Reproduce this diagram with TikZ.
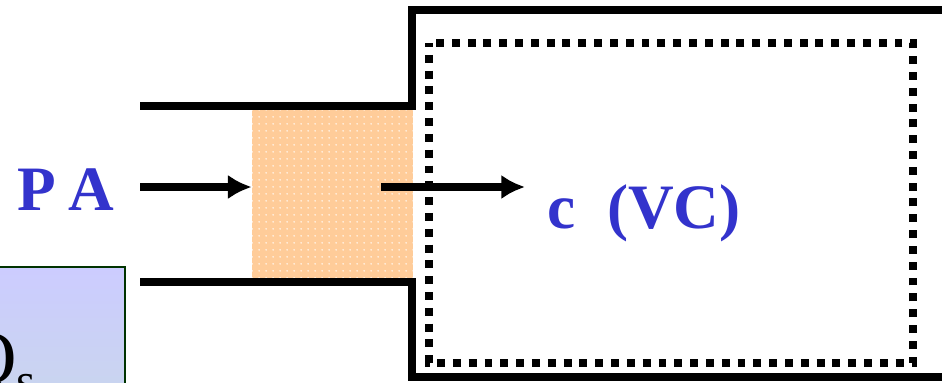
\documentclass[tikz,border=0pt]{standalone}
\usepackage{fontspec}
\setmainfont{Liberation Serif}
\usetikzlibrary{arrows.meta,patterns.meta,positioning}

\definecolor{labelblue}{RGB}{51,51,204}
\definecolor{slugfill}{RGB}{255,204,153}
\definecolor{boxgreen}{RGB}{0,51,0}
\definecolor{boxtop}{RGB}{204,204,255}
\definecolor{boxbottom}{RGB}{200,216,232}

\tikzset{
  wall/.style={line width=5pt, line join=miter},
  flow/.style={line width=5pt, -{Latex[length=13.5pt,width=14pt]}},
  volume/.style={line width=4.5pt, dash pattern=on 4.5pt off 4.5pt, dash phase=2.25pt},
  bigtext/.style={font=\fontsize{36}{40}\selectfont\bfseries, text=labelblue, inner sep=0pt},
  slugbox/.style={draw=none, minimum width=3.22cm, minimum height=3.36cm,
    preaction={fill=slugfill}, pattern={Dots[distance=4pt, radius=0.55pt]},
    pattern color=white!80!slugfill},
}

\begin{document}
\begin{tikzpicture}[x=0.02cm, y=-0.02cm]
  \path[use as bounding box, clip] (0,0) rectangle (945,382);

  % Slug of fluid in the pipe
  \node[slugbox] (slug) at (332.5,194) {};

  % Pipe and vessel walls
  \draw[wall] (140,106) -- (412,106) -- (412,10) -- (942,10);
  \draw[wall] (140,282) -- (412,282) -- (412,377) -- (942,377);

  % Control volume
  \draw[volume] (429,43) rectangle (913,363);

  % Labels
  \node[bigtext, anchor=base west] (pa) at (17,210) {P\hspace{7pt}A};
  \node[bigtext, anchor=base west] (cvc) at (547,228) {c\ \ (VC)};

  % Flow arrows
  \coordinate (inlet) at (140,187);
  \coordinate (outstart) at (381,187);
  \coordinate (outend) at (525,187);
  \draw[flow] (inlet) -- (inlet -| slug.west);
  \draw[flow] (outstart) -- (outend);

  % Q_s box, cut by the border
  \draw[boxgreen, line width=1.1pt, top color=boxtop, bottom color=boxbottom]
    (-60,267) rectangle (125,440);
  \node[anchor=base west, inner sep=0pt, font=\fontsize{43}{46}\selectfont] (qs)
    at (-38,383) {Q\raisebox{-8pt}{\fontsize{28}{30}\selectfont s}};
\end{tikzpicture}
\end{document}
